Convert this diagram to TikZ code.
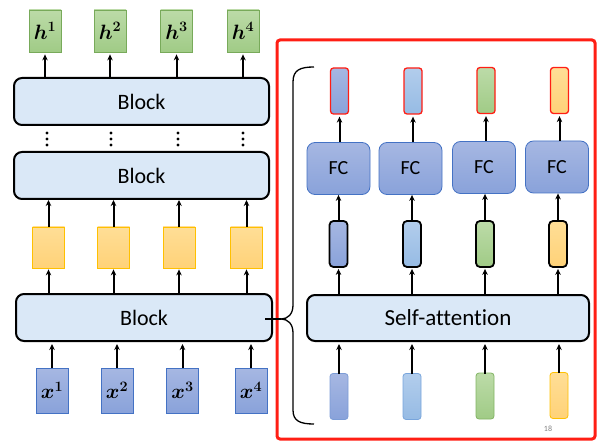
\documentclass[tikz,border=0pt]{standalone}
\usepackage{fontspec}
\usepackage{bm}
\setmainfont{Carlito}[Ligatures={NoCommon}]
\usetikzlibrary{arrows.meta}
\definecolor{blkfill}{RGB}{218,232,247}
\definecolor{bluetop}{RGB}{166,183,226}
\definecolor{bluebot}{RGB}{137,162,218}
\definecolor{blueborder}{RGB}{68,114,196}
\definecolor{lbtop}{RGB}{178,205,236}
\definecolor{lbbot}{RGB}{150,187,228}
\definecolor{lbborder}{RGB}{120,165,220}
\definecolor{gtop}{RGB}{188,219,168}
\definecolor{gbot}{RGB}{160,203,134}
\definecolor{gborder}{RGB}{130,180,100}
\definecolor{ytop}{RGB}{255,222,150}
\definecolor{ybot}{RGB}{255,210,120}
\definecolor{yborder}{RGB}{255,192,0}
\definecolor{redline}{RGB}{255,30,20}
\definecolor{hborder}{RGB}{120,170,90}
\tikzset{
  arr/.style={line width=2pt,-{Stealth[length=6pt,width=5.5pt]}},
  blockbox/.style={draw=black,line width=2pt,rounded corners=8pt,fill=blkfill,
    font=\fontsize{22}{26}\selectfont},
  hbox/.style={draw=hborder,line width=0.8pt,top color=gtop,bottom color=gbot,
    minimum width=32pt,minimum height=42pt,inner sep=0pt,font=\fontsize{21}{24}\selectfont},
  ybox/.style={draw=yborder,line width=0.8pt,top color=ytop,bottom color=ybot,
    minimum width=32pt,minimum height=41pt,inner sep=0pt},
  xbox/.style={draw=blueborder,line width=0.8pt,top color=bluetop,bottom color=bluebot,
    minimum width=32pt,minimum height=45pt,inner sep=0pt,font=\fontsize{21}{24}\selectfont},
  fcbox/.style={draw=blueborder,line width=0.8pt,top color=bluetop,bottom color=bluebot,
    rounded corners=8pt,minimum width=63pt,minimum height=52pt,inner sep=0pt,
    font=\fontsize{20}{24}\selectfont},
  vec/.style={minimum width=18pt,minimum height=46pt,inner sep=0pt,rounded corners=3pt},
  topvec/.style={vec,draw=redline,line width=1.3pt},
  midvec/.style={vec,draw=black,line width=1.8pt,rounded corners=4pt},
  botvec/.style={vec,line width=0.8pt},
  dot/.style={circle,fill=black,inner sep=0pt,minimum size=3.4pt}
}
\begin{document}
\begin{tikzpicture}[x=1pt,y=-1pt]
\useasboundingbox (0,0) rectangle (599,446);
% left column
\node[hbox] (h1) at (45,31) {$\bm{h}^{\bm{1}}$};
\node[hbox] (h2) at (110,31) {$\bm{h}^{\bm{2}}$};
\node[hbox] (h3) at (176.5,31) {$\bm{h}^{\bm{3}}$};
\node[hbox] (h4) at (243,31) {$\bm{h}^{\bm{4}}$};
\node[blockbox,minimum width=255pt,minimum height=47pt] (TB) at (141.5,101.5) {Block};
\node[blockbox,minimum width=255pt,minimum height=47pt] (B2) at (141.5,175.5) {Block};
\node[ybox] (y1) at (48.5,247.5) {};
\node[ybox] (y2) at (113.5,247.5) {};
\node[ybox] (y3) at (179,247.5) {};
\node[ybox] (y4) at (246.5,247.5) {};
\node[blockbox,minimum width=256pt,minimum height=47pt] (B1) at (144,317.5) {Block};
\node[xbox] (x1) at (52,390.5) {$\bm{x}^{\bm{1}}$};
\node[xbox] (x2) at (117,390.5) {$\bm{x}^{\bm{2}}$};
\node[xbox] (x3) at (182.5,390.5) {$\bm{x}^{\bm{3}}$};
\node[xbox] (x4) at (251,390.5) {$\bm{x}^{\bm{4}}$};
\foreach \i in {1,...,4}{
  \draw[arr] (h\i.south |- TB.north) -- ([yshift=-2pt]h\i.south);
  \draw[arr] (y\i.north) -- (y\i.north |- B2.south);
  \draw[arr] (y\i.south |- B1.north) -- ([yshift=-1pt]y\i.south);
  \draw[arr] (x\i.north) -- ([yshift=-2pt]x\i.north |- B1.south);
}
\foreach \xx [count=\k] in {47,111,178,243}{
  \node[dot] (d\k a) at (\xx,133) {};
  \node[dot] (d\k b) at (\xx,139) {};
  \node[dot] (d\k c) at (\xx,145) {};
}
% red frame
\draw[redline,line width=3pt,rounded corners=3pt] (277,40) rectangle (595,439);
% brace
\coordinate (btop) at (314,67);
\coordinate (bbot) at (314,424);
\coordinate (btip) at (281,319);
\draw[line width=1.3pt] (btop) .. controls (300,67) and (293,70) .. (293,82)
  -- (293,305) .. controls (293,314) and (288,319) .. (btip)
  .. controls (288,319) and (293,324) .. (293,333)
  -- (293,410) .. controls (293,421) and (300,424) .. (bbot);
\coordinate (bstart) at (265,319);
\draw[line width=1.3pt] (bstart) -- (btip);
% right column
\node[topvec,top color=bluetop,bottom color=bluebot] (t1) at (339.5,91) {};
\node[topvec,top color=lbtop,bottom color=lbbot] (t2) at (413,91) {};
\node[topvec,top color=gtop,bottom color=gbot] (t3) at (486,90.5) {};
\node[topvec,top color=ytop,bottom color=ybot] (t4) at (559.5,90.5) {};
\node[fcbox] (f1) at (338.5,168.5) {FC};
\node[fcbox] (f2) at (410.5,168.5) {FC};
\node[fcbox] (f3) at (484,167.5) {FC};
\node[fcbox] (f4) at (557,167) {FC};
\node[midvec,top color=bluetop,bottom color=bluebot] (m1) at (338.5,244) {};
\node[midvec,top color=lbtop,bottom color=lbbot] (m2) at (412,244) {};
\node[midvec,top color=gtop,bottom color=gbot] (m3) at (485,244) {};
\node[midvec,top color=ytop,bottom color=ybot] (m4) at (558,244) {};
\node[blockbox,minimum width=282pt,minimum height=46pt,font=\fontsize{23}{27}\selectfont] (SA) at (448,318) {Self-attention};
\node[botvec,draw=blueborder!70,top color=bluetop,bottom color=bluebot] (b1) at (339,396.5) {};
\node[botvec,draw=lbborder,top color=lbtop,bottom color=lbbot] (b2) at (412,396.5) {};
\node[botvec,draw=gborder,top color=gtop,bottom color=gbot] (b3) at (485,396) {};
\node[botvec,draw=yborder,top color=ytop,bottom color=ybot] (b4) at (559,395.5) {};
\foreach \i in {1,...,4}{
  \draw[arr] (t\i.south |- f\i.north) -- ([yshift=-2pt]t\i.south);
  \draw[arr] (m\i.north) -- (m\i.north |- f\i.south);
  \draw[arr] (m\i.south |- SA.north) -- ([yshift=-1pt]m\i.south);
  \draw[arr] ([yshift=-1pt]b\i.north) -- ([yshift=-2pt]b\i.north |- SA.south);
}
\node[text=gray,font=\fontsize{8}{9}\selectfont] (pg) at (548,429) {18};
\end{tikzpicture}
\end{document}
